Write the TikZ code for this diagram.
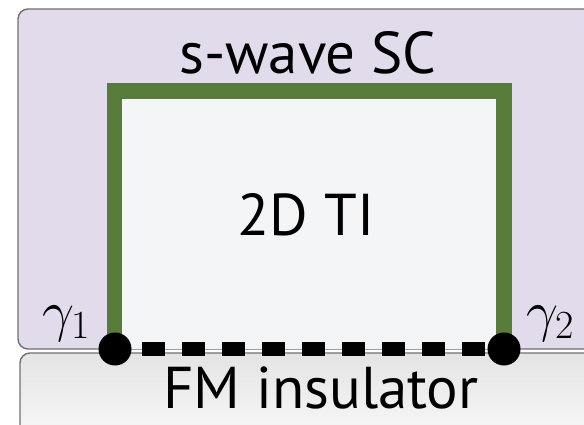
\RequirePackage{fix-cm}
\documentclass[tikz,border=0pt]{standalone}
\usepackage{fontspec}
\setsansfont{PT Sans}
\usetikzlibrary{positioning}
\definecolor{scfill}{HTML}{E2DBEB}
\definecolor{edgegray}{HTML}{707070}
\definecolor{tigreen}{HTML}{577B38}
\definecolor{tifill}{HTML}{F4F5F7}
\definecolor{fmtop}{HTML}{E4E4E4}

\begin{document}
\begin{tikzpicture}[x=1pt,y=-1pt,
  layer/.style={draw=edgegray,line width=1.4pt,rounded corners=10pt},
  lbl/.style={font=\sffamily\fontsize{59}{61}\selectfont,anchor=base,inner sep=0pt},
  gam/.style={font=\fontsize{57}{59}\selectfont,anchor=base,inner sep=0pt},
  majo/.style={circle,fill=black,inner sep=0pt,minimum size=33pt}]
\useasboundingbox (0,0) rectangle (584,424);
\clip (0,0) rectangle (584,424);
% superconductor and ferromagnet
\path[layer,fill=scfill] (18,9) rectangle (640,349);
\path[layer,top color=fmtop,bottom color=white] (20,353) rectangle (640,470);
% topological insulator with helical edge
\fill[tifill] (114.5,91) rectangle (504,349);
\draw[tigreen,line width=15.5pt] (114.5,349) -- (114.5,91) -- (504,91) -- (504,349);
% Majorana end states
\node[majo] (g1) at (115,349) {};
\node[majo] (g2) at (504,349) {};
\draw[line width=14pt,dash pattern=on 23pt off 17pt,dash phase=29.5pt] (g1) -- (g2);
\node[gam] (lg1) at (66,330) {$\gamma_1$};
\node[gam] (lg2) at (550,330) {$\gamma_2$};
% labels
\node[lbl] (sc) at (308,73) {s-wave SC};
\node[lbl] (ti) at (306,235) {2D TI};
\node[lbl] (fm) at (321,408) {FM insulator};
\end{tikzpicture}
\end{document}
